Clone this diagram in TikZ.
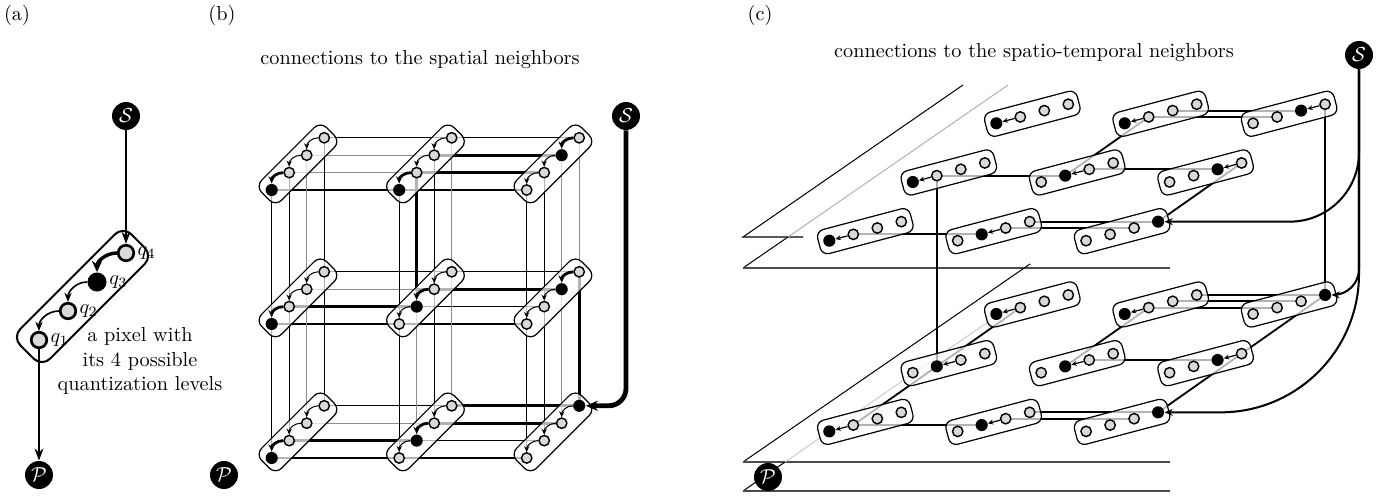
\documentclass[tikz,border=0pt]{standalone}
\usetikzlibrary{arrows.meta,positioning}
\colorlet{lg}{black!45}
\colorlet{pg}{black!30}
\begin{document}
\begin{tikzpicture}[x=0.01733cm,y=-0.01733cm,
	term/.style={circle,fill=black,text=white,inner sep=0pt,minimum size=0.485cm},
	apix/.style={draw,line width=1pt,rounded corners=0.2cm,fill=white,fill opacity=0.7,inner sep=0pt,minimum width=2.72cm,minimum height=0.73cm,rotate=45},
	bpix/.style={draw,line width=0.6pt,rounded corners=0.15cm,fill=white,fill opacity=0.7,inner sep=0pt,minimum width=1.59cm,minimum height=0.49cm,rotate=45},
	cpix/.style={draw,line width=0.6pt,rounded corners=0.13cm,fill=white,fill opacity=0.7,inner sep=0pt,minimum width=1.66cm,minimum height=0.43cm,rotate=14.8},
	alvl/.style={circle,draw,line width=1.3pt,fill=black!15,inner sep=0pt,minimum size=0.27cm},
	asel/.style={circle,fill=black,inner sep=0pt,minimum size=0.33cm},
	lvl/.style={circle,draw,line width=0.7pt,fill=black!15,inner sep=0pt,minimum size=0.18cm},
	sel/.style={circle,fill=black,inner sep=0pt,minimum size=0.21cm},
	wire/.style={line width=0.6pt},
	cut/.style={line width=1.6pt},
	link/.style={line width=0.9pt},
	plane/.style={line width=0.5pt},
	hop/.style={-{Stealth[length=3pt,width=2.6pt]},line width=0.5pt},
	jump/.style={-{Stealth[length=3.6pt,width=3.2pt]},line width=1.4pt},
	ahop/.style={-{Stealth[length=4.5pt,width=3.6pt]},line width=0.8pt},
	ajump/.style={-{Stealth[length=5.5pt,width=5pt]},line width=1.7pt},
	feed/.style={-{Stealth[length=6pt,width=4.4pt]},line width=0.7pt},
	bfeed/.style={-{Stealth[length=6pt,width=5pt]},line width=2.4pt,rounded corners=0.3cm},
	cfeed/.style={-{Stealth[length=4pt,width=3.4pt]},line width=1pt},
	chop/.style={-{Stealth[length=2.6pt,width=2.4pt]},line width=0.6pt}]
	\useasboundingbox (0,0) rectangle (1396,497);

	\node (alabel) at (17,15) {(a)};
	\node[term] (aS) at (126,116) {$\mathcal{S}$};
	\node[term] (aP) at (39,475) {$\mathcal{P}$};
	\node[apix] (apx) at (82.5,296.5) {};
	\node[alvl] (q4) at (126,253) {};
	\node[asel] (q3) at (97,282) {};
	\node[alvl] (q2) at (68,311) {};
	\node[alvl] (q1) at (39,340) {};
	\foreach \k in {1,2,3,4}
		\node[right=0pt of q\k,inner sep=1pt] (ql\k) {$q_\k$};
	\draw[feed] (aS) -- (q4);
	\draw[ajump] (q4.west) to[out=180,in=90] (q3.north);
	\draw[ahop] (q3.west) to[out=180,in=90] (q2.north);
	\draw[ahop] (q2.west) to[out=180,in=90] (q1.north);
	\draw[feed] (q1) -- (aP);
	\node[align=center] (atext) at (140,361) {a pixel with\\its 4 possible\\quantization levels};

	\node (blabel) at (222,15) {(b)};
	\node (btitle) at (420,60) {connections to the spatial neighbors};
	\node[term] (bS) at (626,116) {$\mathcal{S}$};
	\node[term] (bP) at (224,475) {$\mathcal{P}$};

	\foreach \i in {0,1,2}
	\foreach \j in {0,1,2}
	\foreach \k in {1,2,3,4}
		\coordinate (b-\i-\j-\k) at ({271.7+127.5*\i+17.5*(\k-1)},{190+134*\j-17.4*(\k-1)});

	\foreach \j/\k/\ca/\cb in {0/1/black/black,0/2/lg/black,0/3/lg/black,0/4/black/black,
		1/1/black/black,1/2/black/black,1/3/lg/black,1/4/black/black,
		2/1/black/black,2/2/black/black,2/3/lg/black,2/4/black/black}
	{
		\draw[wire,\ca] (b-0-\j-\k) -- (b-1-\j-\k);
		\draw[wire,\cb] (b-1-\j-\k) -- (b-2-\j-\k);
	}
	\foreach \i/\k/\ca/\cb in {0/1/black/black,0/2/black/black,0/3/lg/lg,0/4/black/black,
		1/1/black/black,1/2/black/lg,1/3/black/black,1/4/lg/lg,
		2/1/black/black,2/2/black/black,2/3/lg/lg,2/4/lg/black}
	{
		\draw[wire,\ca] (b-\i-0-\k) -- (b-\i-1-\k);
		\draw[wire,\cb] (b-\i-1-\k) -- (b-\i-2-\k);
	}

	\draw[cut] (b-1-0-3) -- (b-2-0-3);
	\draw[cut] (b-2-0-2) -- (b-1-0-2) |- (b-2-1-3);
	\draw[cut] (b-0-1-2) -- (b-1-1-2);
	\draw[cut] (b-2-1-4) -- (b-2-2-4) -- (b-1-2-4);
	\draw[cut] (b-1-2-3) -- (b-2-2-3);
	\draw[cut] (b-0-2-2) -- (b-1-2-2);

	\foreach \i/\j/\s in {0/0/1,1/0/1,2/0/3,0/1/1,1/1/2,2/1/3,0/2/1,1/2/2,2/2/4}
	{
		\node[bpix] (bpx-\i-\j) at ({271.7+127.5*\i+26.25},{190+134*\j-26.1}) {};
		\foreach \k in {1,2,3,4}
		{
			\ifnum\k=\s \def\st{sel}\else\def\st{lvl}\fi
			\node[\st] (bq-\i-\j-\k) at (b-\i-\j-\k) {};
		}
		\foreach \k in {2,3,4}
		{
			\pgfmathtruncatemacro\m{\k-1}
			\ifnum\m=\s \def\st{jump}\else\def\st{hop}\fi
			\draw[\st] (bq-\i-\j-\k.west) to[out=180,in=90] (bq-\i-\j-\m.north);
		}
	}
	\draw[bfeed] (bS) |- (bq-2-2-4);

	\node (clabel) at (760,15) {(c)};
	\node (ctitle) at (1034,53) {connections to the spatio-temporal neighbors};
	\node[term] (cS) at (1359,55) {$\mathcal{S}$};

	\draw[plane] (803,237) -- (743,237) -- (963,85);
	\draw[plane,pg] (788,237) -- (1008,85);
	\draw[plane] (743,268) -- (788,237);
	\draw[plane,black!70] (743,268) -- (1170,268);
	\draw[plane] (743,462) -- (1030,264);
	\draw[plane,black!70] (743,462) -- (1170,462);
	\draw[plane] (743,491) -- (785,462);
	\draw[plane,black!20] (785,462) -- (1030,293);
	\draw[plane,black!70] (743,491) -- (1170,491);

	\foreach \t in {0,1}
	\foreach \y in {0,1,2}
	\foreach \x in {0,1,2}
	\foreach \k in {1,2,3,4}
		\coordinate (c-\t-\y-\x-\k) at ({829.3+128.4*\x+83.5*\y+24*(\k-1)},{240.7-58.7*\y+190.7*\t-6.35*(\k-1)});

	\foreach \t/\ya/\xa/\yb/\xb/\k in {0/1/0/1/1/2,0/0/0/0/1/2,0/0/1/0/2/3,0/0/1/0/2/4,0/1/1/1/2/3,
		0/1/1/2/1/2,0/0/2/1/2/4,0/2/1/2/2/2,0/2/1/2/2/3,
		1/0/0/1/0/2,1/1/0/2/0/2,1/0/0/0/1/2,1/0/1/0/2/3,1/0/1/0/2/4,1/1/1/1/2/3,
		1/1/1/2/1/2,1/0/2/1/2/4,1/1/2/2/2/4,1/2/1/2/2/2,1/2/1/2/2/3,1/2/1/2/2/4}
		\draw[link] (c-\t-\ya-\xa-\k) -- (c-\t-\yb-\xb-\k);
	\draw[link] (c-0-1-0-2) -- (c-1-1-0-2);
	\draw[link] (c-0-2-2-4) -- (c-1-2-2-4);

	\foreach \t/\y/\x/\s in {0/2/0/1,0/2/1/1,0/2/2/3,0/1/0/1,0/1/1/2,0/1/2/3,0/0/0/1,0/0/1/2,0/0/2/4,
		1/2/0/1,1/2/1/1,1/2/2/4,1/1/0/2,1/1/1/2,1/1/2/3,1/0/0/1,1/0/1/2,1/0/2/4}
	{
		\node[cpix] (cpx-\t-\y-\x) at ({829.3+128.4*\x+83.5*\y+36},{240.7-58.7*\y+190.7*\t-9.525}) {};
		\foreach \k in {1,2,3,4}
		{
			\ifnum\k=\s \def\st{sel}\else\def\st{lvl}\fi
			\node[\st] (cq-\t-\y-\x-\k) at (c-\t-\y-\x-\k) {};
		}
		\ifnum\s<4
			\pgfmathtruncatemacro\nx{\s+1}
			\draw[chop] (cq-\t-\y-\x-\nx) -- (cq-\t-\y-\x-\s);
		\fi
	}
	\draw[cfeed,rounded corners=1.2cm] (cS) |- (cq-0-0-2-4);
	\draw[cfeed,rounded corners=0.45cm] (cS) |- (cq-1-2-2-4);
	\draw[cfeed,rounded corners=2.4cm] (cS) |- (cq-1-0-2-4);
	\node[term] (cP) at (768,477) {$\mathcal{P}$};
\end{tikzpicture}
\end{document}
